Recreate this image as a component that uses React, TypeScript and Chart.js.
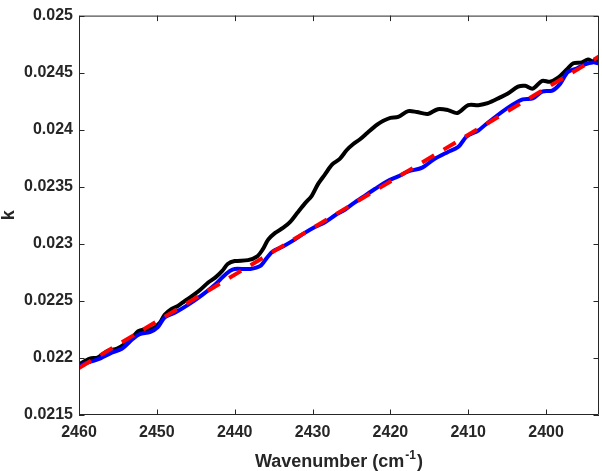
import React, { useEffect, useRef } from "react";
import { Chart, registerables } from "chart.js";

Chart.register(...registerables);

const X_TICKS = [2460, 2450, 2440, 2430, 2420, 2410, 2400];
const Y_TICKS = [0.0215, 0.022, 0.0225, 0.023, 0.0235, 0.024, 0.0245, 0.025];
const X_MIN = 2393.2;
const X_MAX = 2460;
const Y_MIN = 0.0215;
const Y_MAX = 0.025;

const blackX = [2460, 2458.6, 2457.6, 2456.3, 2455.1, 2454.1, 2453.1, 2452.4, 2451.5, 2450.5, 2449.6, 2449.0, 2448.1, 2447.3, 2446.4, 2445.5, 2444.5, 2443.4, 2442.5, 2441.6, 2440.9, 2440.0, 2438.3, 2437.1, 2436.4, 2435.7, 2434.8, 2433.8, 2432.9, 2432.0, 2431.0, 2430.1, 2429.3, 2428.4, 2427.5, 2426.5, 2425.6, 2424.8, 2423.9, 2422.9, 2421.7, 2420.9, 2420.0, 2419.0, 2417.7, 2416.6, 2415.2, 2413.9, 2412.6, 2411.4, 2410.0, 2408.7, 2407.5, 2405.9, 2404.9, 2403.6, 2402.7, 2401.7, 2400.5, 2399.5, 2398.5, 2397.3, 2396.5, 2395.4, 2394.6, 2394.0, 2393.2];
const blackY = [0.021944, 0.021995, 0.022004, 0.022063, 0.022081, 0.022123, 0.022183, 0.022234, 0.022251, 0.02226, 0.022311, 0.022379, 0.02243, 0.022456, 0.022499, 0.022541, 0.022593, 0.022661, 0.022704, 0.022763, 0.022823, 0.022849, 0.022857, 0.022891, 0.022951, 0.023037, 0.023096, 0.023139, 0.02319, 0.023267, 0.023352, 0.023421, 0.023523, 0.023609, 0.023694, 0.023745, 0.023822, 0.023873, 0.023916, 0.023976, 0.024044, 0.024078, 0.024104, 0.024112, 0.024163, 0.024155, 0.024138, 0.02418, 0.024172, 0.024146, 0.024215, 0.024215, 0.024232, 0.024283, 0.024317, 0.024377, 0.024385, 0.02436, 0.024428, 0.02442, 0.024454, 0.02453, 0.024582, 0.02459, 0.024616, 0.024599, 0.024616];

const blueX = [2460, 2459.2, 2457.6, 2455.8, 2454.5, 2453.1, 2452.2, 2450.9, 2449.9, 2449.0, 2447.7, 2446.0, 2444.2, 2442.5, 2441.5, 2440.6, 2440.0, 2438.0, 2436.7, 2435.8, 2435.1, 2433.8, 2432.3, 2431.0, 2429.7, 2428.4, 2427.1, 2425.8, 2424.8, 2423.3, 2422.0, 2420.4, 2419.0, 2417.7, 2415.9, 2414.5, 2412.6, 2411.3, 2410.2, 2408.7, 2407.8, 2406.2, 2404.4, 2403.0, 2401.7, 2400.5, 2399.2, 2398.2, 2397.2, 2396.0, 2395.0, 2394.0, 2393.2];
const blueY = [0.021927, 0.021952, 0.021987, 0.022046, 0.022081, 0.022166, 0.022209, 0.022226, 0.022268, 0.022354, 0.022396, 0.022465, 0.02255, 0.022644, 0.022712, 0.022763, 0.02278, 0.02278, 0.022806, 0.022883, 0.022934, 0.022977, 0.023037, 0.023096, 0.023148, 0.02319, 0.02325, 0.023301, 0.023352, 0.023421, 0.02348, 0.023549, 0.023591, 0.023634, 0.023668, 0.023737, 0.023805, 0.023848, 0.023941, 0.023993, 0.024044, 0.024129, 0.024215, 0.024266, 0.024274, 0.024334, 0.024343, 0.024402, 0.024505, 0.024539, 0.024573, 0.02459, 0.024582];

const fitX = [2460, 2393.2];
const fitY = [0.021912, 0.024641];

const X_TITLE_MAIN = "Wavenumber (cm";
const X_TITLE_SUP = "-1";
const X_TITLE_END = ")";
const Y_TITLE = "k";

function zip(xs: number[], ys: number[]) {
  const n = Math.min(xs.length, ys.length);
  const out: { x: number; y: number }[] = [];
  for (let i = 0; i < n; i++) out.push({ x: xs[i], y: ys[i] });
  return out;
}

const AXIS_COLOR = "#262626";
const FONT = "'Liberation Sans', Arial, Helvetica, sans-serif";

const framePlugin = {
  id: "matlabFrame",
  afterDatasetsDraw(chart: any) {
    const { ctx, chartArea } = chart;
    const xs = chart.scales.x;
    const ys = chart.scales.y;
    const { left, right, top, bottom } = chartArea;
    ctx.save();
    ctx.strokeStyle = AXIS_COLOR;
    ctx.lineWidth = 1;
    ctx.beginPath();
    ctx.rect(left + 0.5, top + 0.5, right - left - 1, bottom - top - 1);
    ctx.stroke();
    const tl = 5.5;
    ctx.beginPath();
    for (const v of X_TICKS) {
      const px = Math.round(xs.getPixelForValue(v)) + 0.5;
      ctx.moveTo(px, bottom);
      ctx.lineTo(px, bottom - tl);
      ctx.moveTo(px, top);
      ctx.lineTo(px, top + tl);
    }
    for (const v of Y_TICKS) {
      const py = Math.round(ys.getPixelForValue(v)) + 0.5;
      ctx.moveTo(left, py);
      ctx.lineTo(left + tl, py);
      ctx.moveTo(right, py);
      ctx.lineTo(right - tl, py);
    }
    ctx.stroke();
    ctx.restore();
  },
  afterDraw(chart: any) {
    const { ctx, chartArea } = chart;
    ctx.save();
    ctx.fillStyle = AXIS_COLOR;
    ctx.textBaseline = "alphabetic";
    const mainFont = `bold 18px ${FONT}`;
    const supFont = `bold 12px ${FONT}`;
    ctx.font = mainFont;
    const w1 = ctx.measureText(X_TITLE_MAIN).width;
    const w3 = ctx.measureText(X_TITLE_END).width;
    ctx.font = supFont;
    const w2 = ctx.measureText(X_TITLE_SUP).width + 2;
    const total = w1 + w2 + w3;
    const cx = (chartArea.left + chartArea.right) / 2;
    let x = cx - total / 2;
    const base = 467;
    ctx.textAlign = "left";
    ctx.font = mainFont;
    ctx.fillText(X_TITLE_MAIN, x, base);
    x += w1 + 1;
    ctx.font = supFont;
    ctx.fillText(X_TITLE_SUP, x, base - 8);
    x += w2 - 1;
    ctx.font = mainFont;
    ctx.fillText(X_TITLE_END, x, base);

    ctx.translate(14, (chartArea.top + chartArea.bottom) / 2);
    ctx.rotate(-Math.PI / 2);
    ctx.textAlign = "center";
    ctx.font = mainFont;
    ctx.fillText(Y_TITLE, 0, 0);
    ctx.restore();
  },
};

export default function App() {
  const ref = useRef<HTMLCanvasElement | null>(null);
  useEffect(() => {
    if (!ref.current) return;
    const chart = new Chart(ref.current, {
      type: "line",
      data: {
        datasets: [
          {
            label: "fit",
            data: zip(fitX, fitY),
            borderColor: "#ff0000",
            borderWidth: 4,
            borderDash: [14, 11],
            pointRadius: 0,
            fill: false,
            clip: 0,
          },
          {
            label: "corrected",
            data: zip(blueX, blueY),
            borderColor: "#0000ff",
            borderWidth: 4,
            pointRadius: 0,
            tension: 0.3,
            fill: false,
            clip: 0,
          },
          {
            label: "measured",
            data: zip(blackX, blackY),
            borderColor: "#000000",
            borderWidth: 4,
            pointRadius: 0,
            tension: 0.3,
            fill: false,
            clip: 0,
          },
        ],
      },
      options: {
        animation: false,
        responsive: false,
        devicePixelRatio: 1,
        layout: { padding: { top: 5, right: 3, left: 0, bottom: 0 } },
        plugins: {
          legend: { display: false },
          tooltip: { enabled: false },
          title: { display: false },
        },
        scales: {
          x: {
            type: "linear",
            reverse: true,
            min: X_MIN,
            max: X_MAX,
            afterBuildTicks: (s: any) => {
              s.ticks = X_TICKS.map((v) => ({ value: v }));
            },
            afterFit: (s: any) => {
              s.height = 56;
            },
            grid: { display: false, drawTicks: false },
            border: { display: false },
            ticks: {
              color: AXIS_COLOR,
              font: { family: FONT, size: 16, weight: "bold" },
              padding: 8,
              maxRotation: 0,
              autoSkip: false,
              callback: (v: any) => String(v),
            },
          },
          y: {
            type: "linear",
            min: Y_MIN,
            max: Y_MAX,
            afterBuildTicks: (s: any) => {
              s.ticks = Y_TICKS.map((v) => ({ value: v }));
            },
            afterFit: (s: any) => {
              s.width = 79;
            },
            grid: { display: false, drawTicks: false },
            border: { display: false },
            ticks: {
              color: AXIS_COLOR,
              font: { family: FONT, size: 16, weight: "bold" },
              padding: 6,
              autoSkip: false,
              callback: (v: any) => String(Number(Number(v).toFixed(4))),
            },
          },
        },
      },
      plugins: [framePlugin],
    } as any);
    return () => chart.destroy();
  }, []);
  return (
    <div style={{ position: "absolute", left: 0, top: 0, width: 602, height: 471, background: "#fff" }}>
      <canvas ref={ref} width={602} height={471} style={{ display: "block", width: 602, height: 471 }} />
    </div>
  );
}
